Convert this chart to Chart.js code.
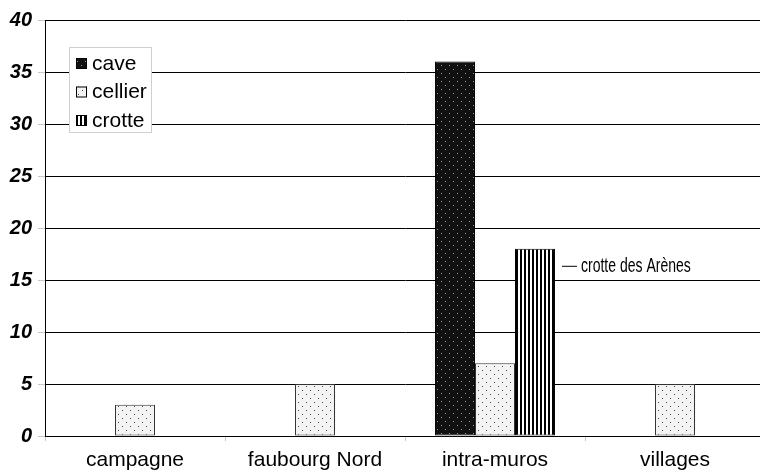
<!DOCTYPE html>
<html lang="fr">
<head>
  <meta charset="UTF-8">
  <title>cave, cellier, crotte</title>
  <script src="https://cdn.jsdelivr.net/npm/chart.js"></script>
  <style>
    html, body {
      margin: 0;
      padding: 0;
      background: #fff;
      overflow: hidden;
    }
    #wrap {
      width: 760px;
      height: 474px;
      overflow: hidden;
    }
  </style>
</head>
<body>

<div id="wrap">
  <canvas id="myChart" width="770" height="474"></canvas>
</div>

<script>
// donnees
const categories = ['campagne', 'faubourg Nord', 'intra-muros', 'villages'];
const seriesNames = ['cave', 'cellier', 'crotte'];
const caveValues = [null, null, 36, null];
const cellierValues = [3, 5, 7, 5];
const crotteValues = [null, null, 18, null];
const yTicks = [0, 5, 10, 15, 20, 25, 30, 35, 40];
const noteText = 'crotte des Arènes';

// motifs de remplissage
function makePattern(w, h, draw) {
  const c = document.createElement('canvas');
  c.width = w;
  c.height = h;
  draw(c.getContext('2d'));
  return document.getElementById('myChart').getContext('2d').createPattern(c, 'repeat');
}

const cavePattern = makePattern(8, 8, g => {
  g.fillStyle = '#111';
  g.fillRect(0, 0, 8, 8);
  g.fillStyle = '#9a9a9a';
  g.fillRect(1, 1, 1, 1);
  g.fillRect(5, 5, 1, 1);
});

const cellierPattern = makePattern(8, 8, g => {
  g.fillStyle = '#f3f3f3';
  g.fillRect(0, 0, 8, 8);
  g.fillStyle = '#444';
  g.fillRect(2, 2, 1, 1);
  g.fillRect(6, 6, 1, 1);
});

const crottePattern = makePattern(4, 4, g => {
  g.fillStyle = '#fff';
  g.fillRect(0, 0, 4, 4);
  g.fillStyle = '#000';
  g.fillRect(0, 0, 2, 4);
});

// legende dans un cadre, par-dessus la grille
const boxLegend = {
  id: 'boxLegend',
  afterDatasetsDraw(chart) {
    const ctx = chart.ctx;
    ctx.save();
    ctx.fillStyle = '#fff';
    ctx.fillRect(69, 47, 82, 85);
    ctx.strokeStyle = '#cfcfcf';
    ctx.lineWidth = 1;
    ctx.strokeRect(69.5, 47.5, 82, 85);
    ctx.font = '21px "Liberation Sans", Arial, sans-serif';
    ctx.textBaseline = 'middle';
    chart.data.datasets.forEach((ds, i) => {
      const y = 63 + i * 28.5;
      ctx.fillStyle = ds.backgroundColor;
      ctx.fillRect(76, y - 5, 11, 11);
      ctx.strokeStyle = '#000';
      ctx.strokeRect(76.5, y - 4.5, 10, 10);
      ctx.fillStyle = '#000';
      ctx.fillText(ds.label, 92, y + 1);
    });
    ctx.restore();
  }
};

// note a cote de la barre crotte (police etroite)
const barNote = {
  id: 'barNote',
  afterDatasetsDraw(chart) {
    const bar = chart.getDatasetMeta(2).data[2];
    const ctx = chart.ctx;
    const x = bar.x + bar.width / 2;
    const y = bar.y + 17;
    ctx.save();
    ctx.strokeStyle = '#000';
    ctx.lineWidth = 1;
    ctx.beginPath();
    ctx.moveTo(x + 7, y + 0.5);
    ctx.lineTo(x + 22, y + 0.5);
    ctx.stroke();
    ctx.translate(x + 26, y + 1);
    ctx.scale(0.7, 1);
    ctx.fillStyle = '#000';
    ctx.font = '20px "Liberation Sans", Arial, sans-serif';
    ctx.textBaseline = 'middle';
    ctx.fillText(noteText, 0, 0);
    ctx.restore();
  }
};

const data = {
  labels: categories,
  datasets: [
    { label: seriesNames[0], data: caveValues, backgroundColor: cavePattern, borderColor: '#000' },
    { label: seriesNames[1], data: cellierValues, backgroundColor: cellierPattern, borderColor: '#333' },
    { label: seriesNames[2], data: crotteValues, backgroundColor: crottePattern, borderColor: '#000' }
  ]
};

const config = {
  type: 'bar',
  data: data,
  options: {
    responsive: false,
    animation: false,
    layout: {
      padding: { top: 20, left: 0, right: 5, bottom: 0 }
    },
    datasets: {
      bar: {
        categoryPercentage: 0.667,
        barPercentage: 1,
        borderWidth: 1,
        borderSkipped: false
      }
    },
    scales: {
      y: {
        min: 0,
        max: 40,
        afterFit: s => { s.width = 45; },
        afterBuildTicks: s => { s.ticks = yTicks.map(v => ({ value: v })); },
        ticks: {
          color: '#000',
          padding: 6,
          font: { family: '"Liberation Sans", Arial, sans-serif', size: 20, weight: 'bold', style: 'italic' }
        },
        grid: { color: '#000', tickColor: '#c8c8c8', lineWidth: 1, tickLength: 7 },
        border: { color: '#000', width: 1 }
      },
      x: {
        afterFit: s => { s.height = 38; },
        ticks: {
          color: '#000',
          padding: 7,
          font: { family: '"Liberation Sans", Arial, sans-serif', size: 21 }
        },
        grid: { offset: true, drawOnChartArea: false, tickLength: 5, color: '#c8c8c8' },
        border: { color: '#000', width: 1 }
      }
    },
    plugins: {
      legend: { display: false },
      tooltip: { enabled: false }
    }
  },
  plugins: [boxLegend, barNote]
};

new Chart(document.getElementById('myChart').getContext('2d'), config);
</script>

</body>
</html>
